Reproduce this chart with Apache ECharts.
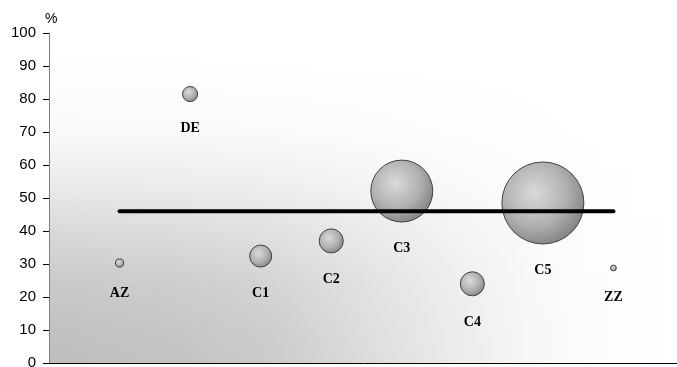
<!DOCTYPE html>
<html>
<head>
<meta charset="utf-8">
<script src="https://cdn.jsdelivr.net/npm/echarts@6/dist/echarts.min.js"></script>
<style>
html, body { margin: 0; padding: 0; background: #fff; }
#chart-container { width: 677px; height: 367px; }
</style>
</head>
<body>
<div id="chart-container"></div>
<script>
var names = ['AZ', 'DE', 'C1', 'C2', 'C3', 'C4', 'C5', 'ZZ'];
var xPos = [1, 2, 3, 4, 5, 6, 7, 8];
var yValues = [30.3, 81.5, 32.4, 37, 52.1, 24, 48.5, 28.8];
var weights = [1, 3.4, 7.2, 8.6, 57, 8.6, 100, 0.5];
var avgLine = [[1, 46], [8, 46]];

var dom = document.getElementById('chart-container');
var myChart = echarts.init(dom, null, { renderer: 'canvas' });

var bubbleData = names.map(function (n, i) {
    return { name: n, value: [xPos[i], yValues[i], weights[i]] };
});

var option = {
    animation: false,
    grid: {
        left: 49,
        top: 33,
        width: 635,
        height: 330,
        outerBoundsMode: 'none',
        containLabel: false,
        show: true,
        borderWidth: 0,
        // horizontal part of the corner shading
        backgroundColor: new echarts.graphic.LinearGradient(0, 0, 1, 0, [
            { offset: 0, color: '#bfbebc' },
            { offset: 0.2, color: '#c5c3c2' },
            { offset: 0.35, color: '#cdcbca' },
            { offset: 0.5, color: '#dcdcdb' },
            { offset: 0.62, color: '#eae9e8' },
            { offset: 0.75, color: '#f6f6f5' },
            { offset: 0.85, color: '#fcfcfb' },
            { offset: 1, color: '#ffffff' }
        ])
    },
    xAxis: {
        type: 'value',
        z: 5,
        min: 0,
        max: 9,
        splitLine: { show: false },
        axisTick: { show: false },
        axisLabel: { show: false },
        axisLine: { show: true, onZero: false, lineStyle: { color: '#000', width: 1 } }
    },
    yAxis: {
        type: 'value',
        z: 5,
        min: 0,
        max: 100,
        interval: 10,
        name: '%',
        nameLocation: 'end',
        nameGap: 7,
        nameTextStyle: { color: '#000', fontFamily: 'Liberation Sans, Arial', fontSize: 14, align: 'left', padding: [0, 0, 0, -4] },
        splitLine: { show: false },
        axisLine: { show: true, lineStyle: { color: '#808080', width: 1 } },
        axisTick: { show: true, length: 6, lineStyle: { color: '#000' } },
        axisLabel: { color: '#000', fontFamily: 'Liberation Sans, Arial', fontSize: 15, margin: 13 }
    },
    series: [
        {
            // vertical part of the shading: white veil fading out towards the bottom
            type: 'line',
            z: 1,
            data: [],
            silent: true,
            markArea: {
                silent: true,
                itemStyle: {
                    color: new echarts.graphic.LinearGradient(0, 0, 0, 1, [
                        { offset: 0, color: 'rgba(255,255,255,1)' },
                        { offset: 0.12, color: 'rgba(255,255,255,0.99)' },
                        { offset: 0.3, color: 'rgba(255,255,255,0.9)' },
                        { offset: 0.45, color: 'rgba(255,255,255,0.7)' },
                        { offset: 0.6, color: 'rgba(255,255,255,0.42)' },
                        { offset: 0.75, color: 'rgba(255,255,255,0.18)' },
                        { offset: 0.9, color: 'rgba(255,255,255,0.05)' },
                        { offset: 1, color: 'rgba(255,255,255,0)' }
                    ])
                },
                data: [[{ coord: [0, 100] }, { coord: [9, 0] }]]
            }
        },
        {
            type: 'scatter',
            z: 2,
            data: bubbleData,
            symbolSize: function (v) { return 8.2 * Math.sqrt(v[2]); },
            itemStyle: {
                color: new echarts.graphic.RadialGradient(0.4, 0.38, 0.65, [
                    { offset: 0, color: '#dadada' },
                    { offset: 0.6, color: '#b0b0b0' },
                    { offset: 1, color: '#848484' }
                ]),
                borderColor: '#404040',
                borderWidth: 1,
                opacity: 1
            },
            label: {
                show: true,
                position: 'bottom',
                distance: 19,
                formatter: '{b}',
                color: '#000',
                fontFamily: 'Liberation Serif, Times New Roman, serif',
                fontWeight: 'bold',
                fontSize: 14
            },
            emphasis: { disabled: true }
        },
        {
            type: 'line',
            z: 3,
            data: avgLine,
            symbol: 'none',
            lineStyle: { color: '#000', width: 4, cap: 'round' },
            emphasis: { disabled: true }
        }
    ]
};

myChart.setOption(option);
window.addEventListener('resize', myChart.resize);
</script>
</body>
</html>
